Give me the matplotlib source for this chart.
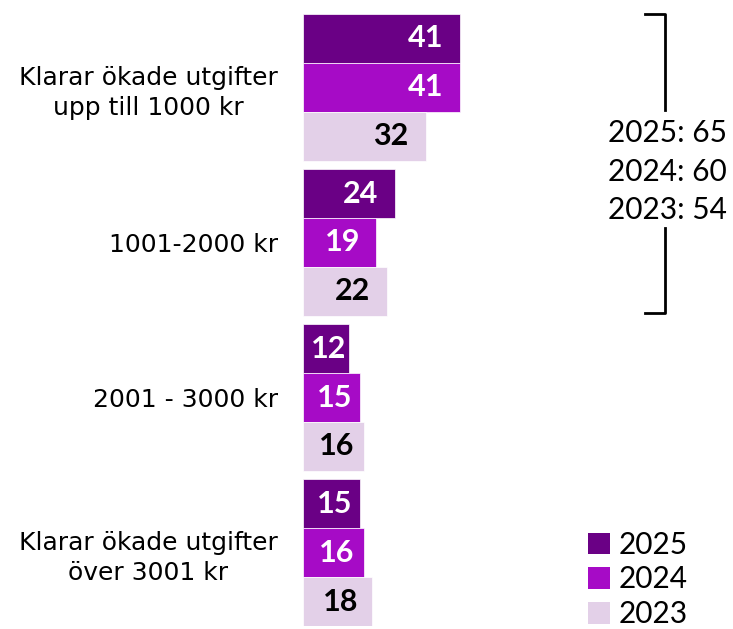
import matplotlib
matplotlib.use("Agg")
import matplotlib.pyplot as plt
from matplotlib.patches import Patch
import numpy as np

plt.rcParams['font.family'] = ['Lato', 'DejaVu Sans']

categories = ["Klarar ökade utgifter\nupp till 1000 kr", "1001-2000 kr", "2001 - 3000 kr",
              "Klarar ökade utgifter\növer 3001 kr"]
years = ["2025", "2024", "2023"]
v2025 = [41, 24, 12, 15]
v2024 = [41, 19, 15, 16]
v2023 = [32, 22, 16, 18]
totals = [65, 60, 54]

colors = ["#6A0085", "#A60BC6", "#E3D0E8"]
text_colors = ["white", "white", "black"]

W, H = 733, 629
fig = plt.figure(figsize=(W / 100, H / 100), dpi=100)
ax_left, ax_top, ax_bot = 303, 14, 626
ax = fig.add_axes([ax_left / W, (H - ax_bot) / H, (W - ax_left) / W, (ax_bot - ax_top) / H])

bh = 0.316
y = np.arange(len(categories))
series = [v2025, v2024, v2023]
for j, vals in enumerate(series):
    pos = y + (j - 1) * bh
    ax.barh(pos, vals, height=bh, color=colors[j], edgecolor="white", linewidth=0.5)
    for p, v in zip(pos, vals):
        ax.text(max(v - 9, v * 0.55), p, str(v), ha="center", va="center",
                color=text_colors[j], fontsize=22, fontweight="bold")

ax.set_xlim(0, (W - ax_left) / 3.83)
ax.set_ylim(y[-1] + 1.5 * bh, y[0] - 1.5 * bh)
ax.set_yticks(y)
ax.set_yticklabels(categories, fontsize=18, linespacing=1.3, family=["DejaVu Sans"])
for lbl in ax.get_yticklabels():
    lbl.set_multialignment("center")
ax.tick_params(axis="y", length=0, pad=18)
ax.set_xticks([])
for s in ax.spines.values():
    s.set_visible(False)
ax.patch.set_visible(False)

# bracket
def fx(px):
    return px / W
def fy(py):
    return 1 - py / H
lw = 2
fig.add_artist(plt.Line2D([fx(645), fx(665), fx(665)], [fy(14), fy(14), fy(110)],
                          transform=fig.transFigure, color="black", lw=lw, solid_joinstyle="round"))
fig.add_artist(plt.Line2D([fx(665), fx(665), fx(645)], [fy(228), fy(313), fy(313)],
                          transform=fig.transFigure, color="black", lw=lw, solid_joinstyle="round"))
for k, (yr, t) in enumerate(zip(years, totals)):
    fig.text(fx(667), fy(133 + 38.5 * k), f"{yr}: {t}", ha="center", va="center", fontsize=21.5)

handles = [Patch(facecolor=c, edgecolor="none") for c in colors]
fig.legend(handles, years, loc="lower right", bbox_to_anchor=(fx(700), fy(640)),
           frameon=False, fontsize=21.5, handlelength=0.75, handleheight=0.75,
           handletextpad=0.3, labelspacing=0.22, borderaxespad=0)

fig.savefig("out.png", dpi=100)
